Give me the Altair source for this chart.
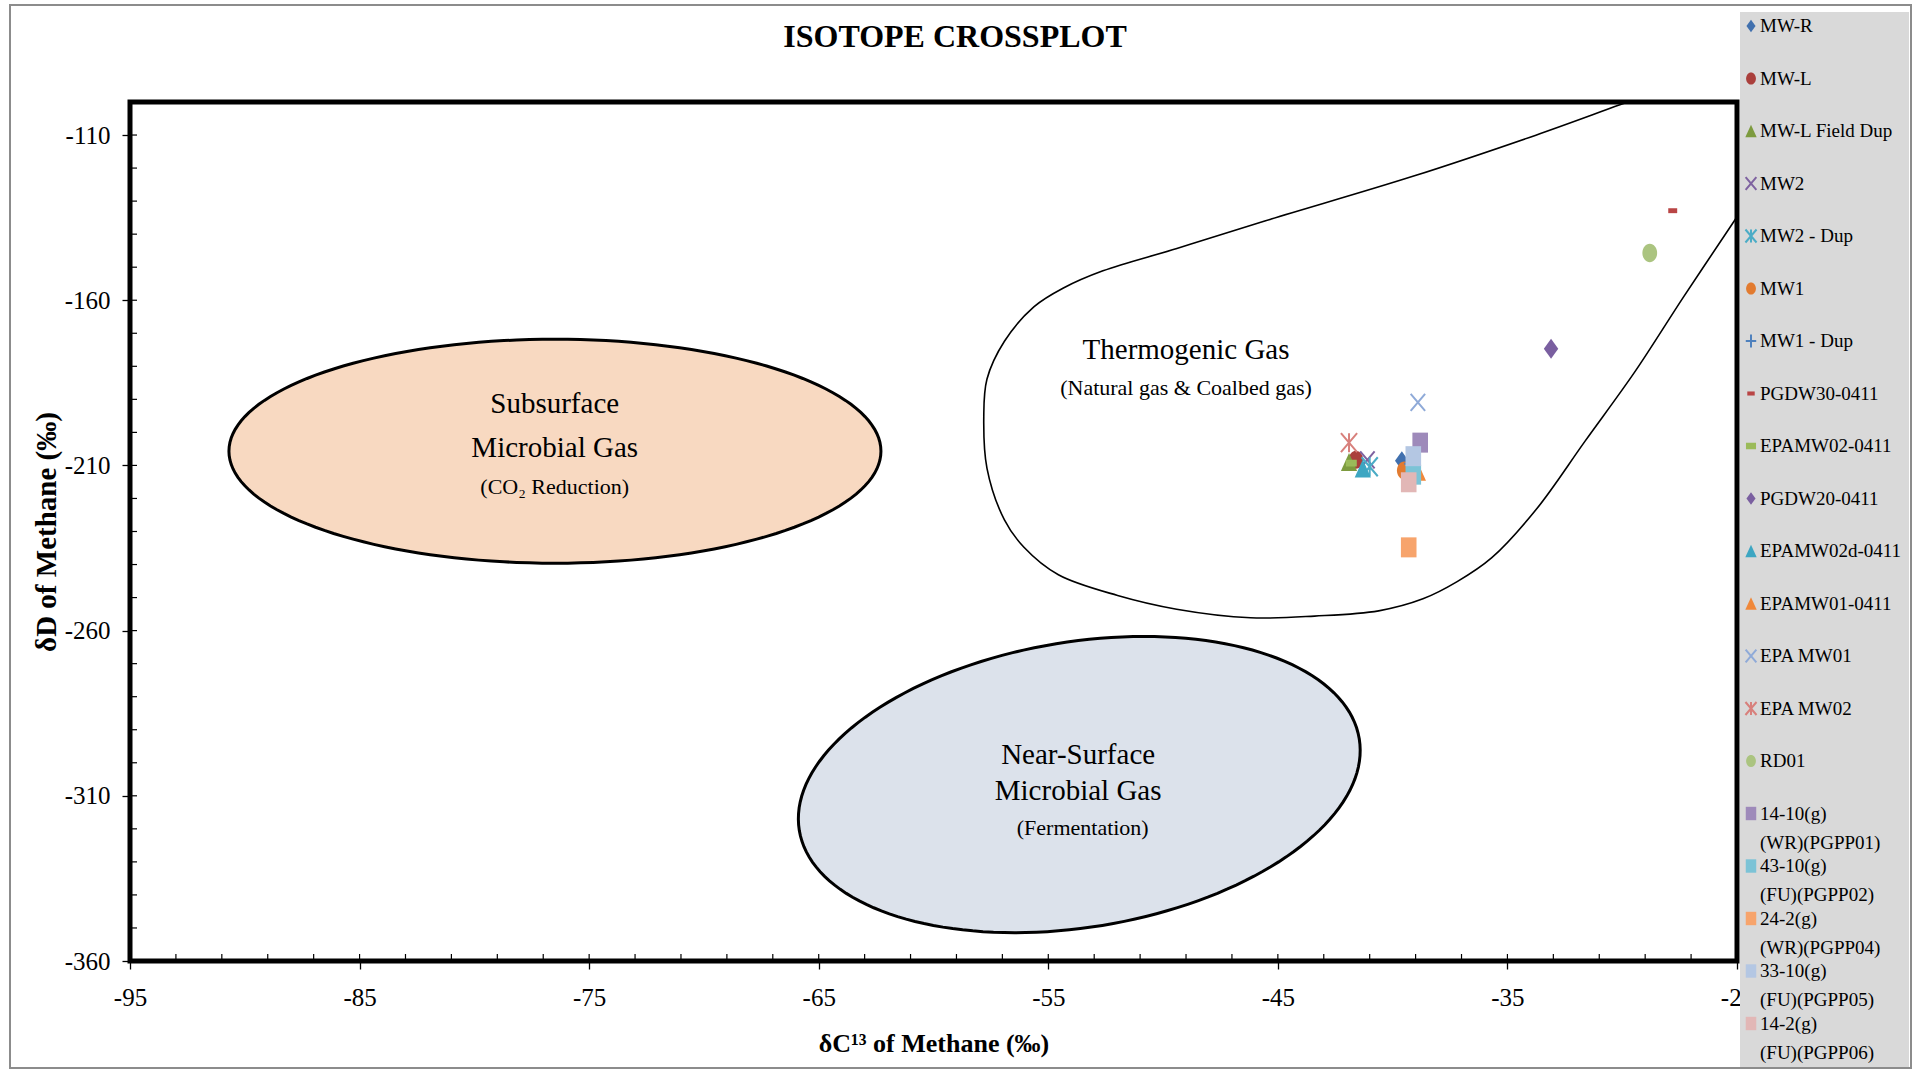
import numpy as np
import pandas as pd
import altair as alt

# ---------------- data ----------------
series = ["MW-R", "MW-L", "MW-L Field Dup", "MW2", "MW2 - Dup", "MW1", "MW1 - Dup",
          "PGDW30-0411", "EPAMW02-0411", "PGDW20-0411", "EPAMW02d-0411", "EPAMW01-0411",
          "EPA MW01", "EPA MW02", "RD01",
          "14-10(g) (WR)(PGPP01)", "43-10(g) (FU)(PGPP02)", "24-2(g) (WR)(PGPP04)",
          "33-10(g) (FU)(PGPP05)", "14-2(g) (FU)(PGPP06)"]
d13c = [-39.6, -41.6, -41.9, -41.1, -41.0, -39.5, -39.2,
        -27.8, -41.8, -33.1, -41.3, -38.9,
        -38.9, -41.9, -28.8,
        -38.8, -39.1, -39.3, -39.1, -39.3]
dD = [-208.6, -208.3, -209.0, -208.3, -210.4, -211.5, -209.5,
      -132.9, -209.3, -174.7, -210.9, -211.9,
      -190.9, -203.1, -145.7,
      -203.1, -212.8, -234.8, -207.2, -215.1]

# thermogenic gas field outline
thermo_x = [-27.5, -30.10, -33.76, -39.12, -45.57, -49.40, -52.62, -54.34, -55.63, -56.91,
            -57.67, -57.81, -57.67, -56.91, -56.06, -54.56, -51.98, -49.41, -46.19, -43.40,
            -40.61, -38.68, -37.19, -35.68, -33.75, -31.61, -29.46, -27.32, -25.07, -23.5]
thermo_y = [-94.4, -100.86, -110.03, -122.50, -136.02, -144.34, -151.09, -156.29, -162.01, -172.42,
            -183.86, -195.30, -210.88, -226.49, -234.78, -243.10, -249.36, -253.51, -256.11, -255.60,
            -254.02, -250.39, -245.19, -237.93, -223.34, -202.56, -181.77, -158.90, -135.51, -119.0]

# region labels
big_text = ["Subsurface", "Microbial Gas", "Near-Surface", "Microbial Gas", "Thermogenic Gas"]
big_x = [-76.5, -76.5, -53.7, -53.7, -49.0]
big_y = [-191.5, -204.8, -297.7, -308.5, -175.2]
small_text = ["(CO₂ Reduction)", "(Fermentation)", "(Natural gas & Coalbed gas)"]
small_x = [-76.5, -53.5, -49.0]
small_y = [-216.6, -319.6, -186.7]

x_major = [-95, -85, -75, -65, -55, -45, -35, -25]
y_major = [-360, -310, -260, -210, -160, -110]
x_minor = list(range(-95, -24, 2))
y_minor = list(range(-360, -109, 10))

# ---------------- styles ----------------
SERIF = "Liberation Serif"
W, H = 1607, 859
SX, SY = W / 70.0, H / 260.0

DIAMOND = "M0,-1L0.72,0L0,1L-0.72,0Z"
CIRCLE = "M-0.8,0A0.8,1,0,1,0,0.8,0A0.8,1,0,1,0,-0.8,0Z"
TRI = "M0,-1L0.9,1L-0.9,1Z"
XMARK = "M-0.85,-1L0.85,1M-0.85,1L0.85,-1"
STAR = "M-0.85,-1L0.85,1M-0.85,1L0.85,-1M0,-1L0,1"
PLUS = "M0,-1L0,1M-0.8,0L0.8,0"
DASH = "M-1,-0.55L1,-0.55L1,0.55L-1,0.55Z"
SQUARE = "M-0.78,-1L0.78,-1L0.78,1L-0.78,1Z"

colors = ["#4170AE", "#AA3F3C", "#7D9B3F", "#7E62A0", "#4BACC6", "#E27B30", "#4F81BD",
          "#B94545", "#9BBB59", "#7A5FA0", "#3DA6C2", "#F0883A",
          "#8FAAD8", "#D8807C", "#ABC480",
          "#9E8ABA", "#7CC3D6", "#F7A46C", "#B4C7E3", "#E2B7B6"]
shapes = [DIAMOND, CIRCLE, TRI, XMARK, STAR, CIRCLE, PLUS,
          DASH, DASH, DIAMOND, TRI, TRI,
          XMARK, STAR, CIRCLE,
          SQUARE, SQUARE, SQUARE, SQUARE, SQUARE]
sizes = [361, 324, 324, 289, 361, 324, 289,
         80, 80, 400, 324, 324,
         289, 361, 340,
         400, 400, 400, 400, 400]
legend_sizes = [160, 150, 160, 160, 170, 150, 170,
                55, 65, 160, 160, 160,
                160, 170, 150,
                180, 180, 180, 180, 180]
stroke_w = [0, 0, 0, 2, 2, 0, 2,
            0, 2, 0, 0, 0,
            2, 2, 0,
            0, 0, 0, 0, 0]

# ---------------- frames ----------------
pts = pd.DataFrame({"series": series, "d13c": d13c, "dD": dD,
                    "sz": sizes, "sw": stroke_w})
line1, line2 = [], []
for s in series:
    if "(g) " in s:
        a, b = s.split(" ", 1)
    else:
        a, b = s, ""
    line1.append(a)
    line2.append(b)
leg = pd.DataFrame({"series": series, "idx": list(range(len(series))),
                    "l1": line1, "l2": line2, "sz": legend_sizes, "sw": stroke_w})
leg2 = leg[leg["l2"] != ""]

thermo = pd.DataFrame({"x": thermo_x, "y": thermo_y, "i": list(range(len(thermo_x)))})


def ellipse(cx, cy, a_px, b_px, rot_deg, n=160):
    t = np.linspace(0, 2 * np.pi, n + 1)
    th = np.radians(rot_deg)
    dx = a_px * np.cos(t) * np.cos(th) - b_px * np.sin(t) * np.sin(th)
    dy = a_px * np.cos(t) * np.sin(th) + b_px * np.sin(t) * np.cos(th)
    return pd.DataFrame({"x": cx + dx / SX, "y": cy + dy / SY, "i": np.arange(n + 1)})


ell_sub = ellipse(-76.49, -205.7, 326.0, 112.0, 0.0)
ell_near = ellipse(-53.65, -306.6, 283.7, 142.7, 9.3)

big = pd.DataFrame({"t": big_text, "x": big_x, "y": big_y})
small = pd.DataFrame({"t": small_text, "x": small_x, "y": small_y})
one = pd.DataFrame({"a": [0]})

# ---------------- scales / axes ----------------
xs = alt.Scale(domain=[-95, -25], nice=False, zero=False)
ys = alt.Scale(domain=[-360, -100], nice=False, zero=False)

x_axis = alt.Axis(values=x_major, labelExpr="'-' + abs(datum.value)", labelFont=SERIF,
                  labelFontSize=25, labelColor="black", labelFlush=False, labelOverlap=False,
                  tickColor="black", tickSize=8, tickWidth=1.3, labelPadding=16,
                  domain=False, grid=False, orient="bottom",
                  title="δC¹³ of Methane (‰)", titleFont=SERIF, titleFontSize=26,
                  titleFontWeight="bold", titleColor="black", titleX=W / 2, titleY=82,
                  titleAlign="center", titleBaseline="middle")
y_axis = alt.Axis(values=y_major, labelExpr="'-' + abs(datum.value)", labelFont=SERIF,
                  labelFontSize=25, labelColor="black", labelFlush=False, labelOverlap=False,
                  tickColor="black", tickSize=8, tickWidth=1.3, labelPadding=12,
                  domain=False, grid=False, orient="left",
                  title="δD of Methane (‰)", titleFont=SERIF, titleFontSize=29,
                  titleFontWeight="bold", titleColor="black", titleX=-84, titleY=H / 2,
                  titleAngle=-90, titleAlign="center", titleBaseline="middle")

shape_enc = alt.Shape("series:N", scale=alt.Scale(domain=series, range=shapes), legend=None)
fill_enc = alt.Fill("series:N", scale=alt.Scale(domain=series, range=colors), legend=None)
stroke_enc = alt.Stroke("series:N", scale=alt.Scale(domain=series, range=colors), legend=None)

# ---------------- main plot layers ----------------
e1 = alt.Chart(ell_sub).mark_line(fill="#F8D9C1", stroke="black", strokeWidth=3).encode(
    x=alt.X("x:Q", scale=xs, axis=None), y=alt.Y("y:Q", scale=ys, axis=None), order="i:Q")
e2 = alt.Chart(ell_near).mark_line(fill="#DCE2EB", stroke="black", strokeWidth=3).encode(
    x=alt.X("x:Q", scale=xs, axis=None), y=alt.Y("y:Q", scale=ys, axis=None), order="i:Q")
th = alt.Chart(thermo).mark_line(color="black", strokeWidth=1.6, clip=True,
                                 interpolate="catmull-rom").encode(
    x=alt.X("x:Q", scale=xs, axis=None), y=alt.Y("y:Q", scale=ys, axis=None), order="i:Q")

t_big = alt.Chart(big).mark_text(font=SERIF, fontSize=29, color="black", baseline="middle").encode(
    x=alt.X("x:Q", scale=xs, axis=None), y=alt.Y("y:Q", scale=ys, axis=None), text="t:N")
t_small = alt.Chart(small).mark_text(font=SERIF, fontSize=22, color="black", baseline="middle").encode(
    x=alt.X("x:Q", scale=xs, axis=None), y=alt.Y("y:Q", scale=ys, axis=None), text="t:N")

xmin = alt.Chart(pd.DataFrame({"v": x_minor})).mark_rule(color="black", strokeWidth=1.2).encode(
    x=alt.X("v:Q", scale=xs, axis=None), y=alt.value(H - 7), y2=alt.value(H))
ymin = alt.Chart(pd.DataFrame({"v": y_minor})).mark_rule(color="black", strokeWidth=1.2).encode(
    y=alt.Y("v:Q", scale=ys, axis=None), x=alt.value(0), x2=alt.value(7))

points = alt.Chart(pts).mark_point(filled=True, opacity=1).encode(
    x=alt.X("d13c:Q", scale=xs, axis=x_axis),
    y=alt.Y("dD:Q", scale=ys, axis=y_axis),
    shape=shape_enc, fill=fill_enc, stroke=stroke_enc,
    strokeWidth=alt.StrokeWidth("sw:Q", scale=None),
    size=alt.Size("sz:Q", scale=None),
)

# ---------------- legend / frame / title ----------------
ly = alt.Scale(domain=[0, len(series) - 1], range=[-76, 921.5])
bg = alt.Chart(one).mark_rect(fill="#D9D9D9").encode(
    x=alt.value(1610), x2=alt.value(1779), y=alt.value(-90), y2=alt.value(968))
frame = alt.Chart(one).mark_rect(fill="white", fillOpacity=0, stroke="#8C8C8C", strokeWidth=2).encode(
    x=alt.value(-120), x2=alt.value(1781), y=alt.value(-97), y2=alt.value(966))
title = alt.Chart(one).mark_text(text="ISOTOPE CROSSPLOT", font=SERIF, fontSize=32,
                                 fontWeight="bold", color="black", baseline="middle").encode(
    x=alt.value(825), y=alt.value(-65))
leg_sym = alt.Chart(leg).mark_point(filled=True, opacity=1).encode(
    x=alt.value(1621), y=alt.Y("idx:Q", scale=ly, axis=None),
    shape=shape_enc, fill=fill_enc, stroke=stroke_enc,
    strokeWidth=alt.StrokeWidth("sw:Q", scale=None),
    size=alt.Size("sz:Q", scale=None),
)
leg_t1 = alt.Chart(leg).mark_text(font=SERIF, fontSize=19, color="black", align="left",
                                  baseline="middle").encode(
    x=alt.value(1630), y=alt.Y("idx:Q", scale=ly, axis=None), text="l1:N")
leg_t2 = alt.Chart(leg2).mark_text(font=SERIF, fontSize=19, color="black", align="left",
                                   baseline="middle", dy=29).encode(
    x=alt.value(1630), y=alt.Y("idx:Q", scale=ly, axis=None), text="l2:N")

chart = alt.layer(e1, e2, th, t_big, t_small, xmin, ymin, points,
                  bg, frame, title, leg_sym, leg_t1, leg_t2).resolve_scale(
    x="independent", y="independent").properties(
    width=W, height=H,
    padding={"left": 130, "top": 102, "right": 182, "bottom": 108},
    autosize=alt.AutoSizeParams(type="none"),
    background="white",
).configure_view(stroke="black", strokeWidth=5)

chart.save("out.html", embed_options={"renderer": "svg", "actions": False})
